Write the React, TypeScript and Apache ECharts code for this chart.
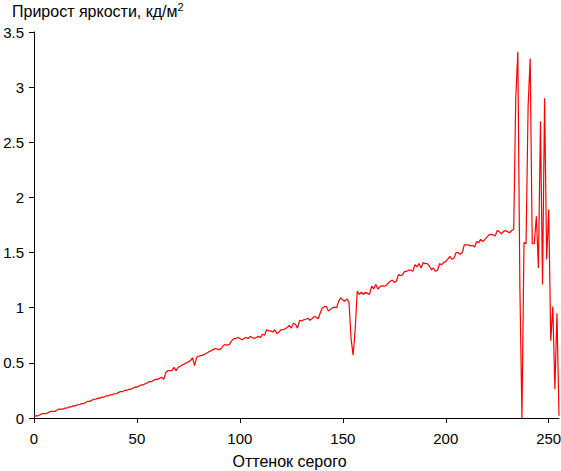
import React, { useEffect, useRef } from "react";
import * as echarts from "echarts";

const titleText = "Прирост яркости, кд/м{sup|2}";
const xAxisName = "Оттенок серого";
const xTicks = [0, 50, 100, 150, 200, 250];
const yMin = 0;
const yMax = 3.5;
const yStep = 0.5;

// brightness increment (cd/m²) per gray level 0..255
const brightnessGain = [
  0.02, 0.02, 0.02, 0.03, 0.04, 0.04, 0.04, 0.05, 0.06, 0.06, 0.06, 0.07, 0.08, 0.08, 0.08, 0.09,
  0.09, 0.10, 0.10, 0.11, 0.11, 0.12, 0.12, 0.13, 0.13, 0.14, 0.15, 0.15, 0.16, 0.17, 0.17, 0.18,
  0.18, 0.19, 0.19, 0.20, 0.20, 0.21, 0.21, 0.22, 0.22, 0.23, 0.24, 0.24, 0.25, 0.25, 0.26, 0.26,
  0.27, 0.28, 0.28, 0.29, 0.30, 0.30, 0.31, 0.32, 0.33, 0.33, 0.34, 0.35, 0.35, 0.36, 0.37, 0.35,
  0.41, 0.43, 0.43, 0.43, 0.46, 0.43, 0.46, 0.47, 0.48, 0.49, 0.50, 0.51, 0.52, 0.545, 0.475, 0.55,
  0.56, 0.565, 0.57, 0.58, 0.59, 0.60, 0.61, 0.62, 0.63, 0.625, 0.62, 0.63, 0.66, 0.665, 0.66, 0.67,
  0.70, 0.72, 0.72, 0.73, 0.72, 0.71, 0.72, 0.73, 0.72, 0.74, 0.73, 0.72, 0.73, 0.74, 0.73, 0.76,
  0.75, 0.80, 0.79, 0.79, 0.78, 0.80, 0.765, 0.78, 0.80, 0.80, 0.81, 0.82, 0.84, 0.815, 0.86, 0.85,
  0.815, 0.885, 0.88, 0.89, 0.895, 0.905, 0.886, 0.90, 0.92, 0.915, 0.90, 0.95, 0.995, 1.01, 1.01, 0.97,
  0.985, 1.0, 1.005, 1.0, 1.06, 1.09, 1.07, 1.06, 1.08, 1.05, 0.72, 0.57, 0.80, 1.15, 1.12, 1.14,
  1.12, 1.14, 1.13, 1.12, 1.195, 1.17, 1.21, 1.17, 1.19, 1.20, 1.195, 1.20, 1.22, 1.24, 1.25, 1.23,
  1.24, 1.30, 1.29, 1.30, 1.33, 1.33, 1.34, 1.34, 1.33, 1.39, 1.37, 1.40, 1.36, 1.41, 1.40, 1.40,
  1.38, 1.345, 1.36, 1.33, 1.34, 1.40, 1.39, 1.41, 1.42, 1.44, 1.466, 1.44, 1.45, 1.50, 1.50, 1.485,
  1.50, 1.57, 1.57, 1.57, 1.56, 1.565, 1.55, 1.60, 1.59, 1.62, 1.60, 1.62, 1.64, 1.66, 1.665, 1.66,
  1.65, 1.70, 1.69, 1.67, 1.69, 1.70, 1.69, 1.68, 1.70, 1.71, 2.90, 3.32, 1.19, 0.00, 1.59, 1.58,
  2.83, 3.26, 1.58, 1.58, 1.83, 1.36, 2.69, 1.21, 2.90, 1.44, 1.89, 0.70, 1.01, 0.26, 0.95, 0.02,
];

// gray level of each sample is its position in the list
const grayLevels = brightnessGain.map((_, i) => i);

const FONT = "'Liberation Sans', Arial, sans-serif";

export default function App() {
  const ref = useRef<HTMLDivElement>(null);

  useEffect(() => {
    if (!ref.current) return;
    const chart = echarts.init(ref.current, undefined, { renderer: "svg" });
    const axisLine = { show: true, lineStyle: { color: "#000", width: 1 } };
    chart.setOption({
      animation: false,
      backgroundColor: "#fff",
      textStyle: { fontFamily: FONT },
      title: {
        text: titleText,
        left: 12,
        top: 1,
        padding: 0,
        textStyle: {
          fontSize: 16,
          fontWeight: "normal",
          color: "#000",
          fontFamily: FONT,
          lineHeight: 20,
          rich: {
            sup: { fontSize: 11, fontFamily: FONT, color: "#000", verticalAlign: "top", lineHeight: 12, padding: [0, 0, 6, 0] },
          },
        },
      },
      grid: { left: 34, right: 2, top: 32, bottom: 53, containLabel: false, outerBoundsMode: "none" },
      xAxis: {
        type: "value",
        min: 0,
        max: 255,
        interval: 50,
        name: xAxisName,
        nameLocation: "middle",
        nameGap: 35,
        nameTextStyle: { fontSize: 16, color: "#000", fontFamily: FONT, padding: [0, 14, 0, 0] },
        axisLine,
        axisTick: { show: true, inside: false, length: 5, lineStyle: { color: "#000" }, customValues: xTicks },
        axisLabel: { color: "#000", fontSize: 15, margin: 13, fontFamily: FONT, customValues: xTicks },
        splitLine: { show: false },
      },
      yAxis: {
        type: "value",
        min: yMin,
        max: yMax,
        interval: yStep,
        axisLine,
        axisTick: { show: true, inside: false, length: 5, lineStyle: { color: "#000" } },
        axisLabel: { color: "#000", fontSize: 15, margin: 10, fontFamily: FONT },
        splitLine: { show: false },
      },
      series: [
        {
          type: "line",
          data: grayLevels.map((g, i) => [g, brightnessGain[i]]),
          showSymbol: false,
          symbol: "none",
          lineStyle: { color: "#ff0000", width: 1.2 },
          itemStyle: { color: "#ff0000" },
          silent: true,
        },
      ],
    });
    return () => chart.dispose();
  }, []);

  return (
    <div
      ref={ref}
      style={{ position: "fixed", left: 0, top: 0, width: 561, height: 471, background: "#fff" }}
    />
  );
}
